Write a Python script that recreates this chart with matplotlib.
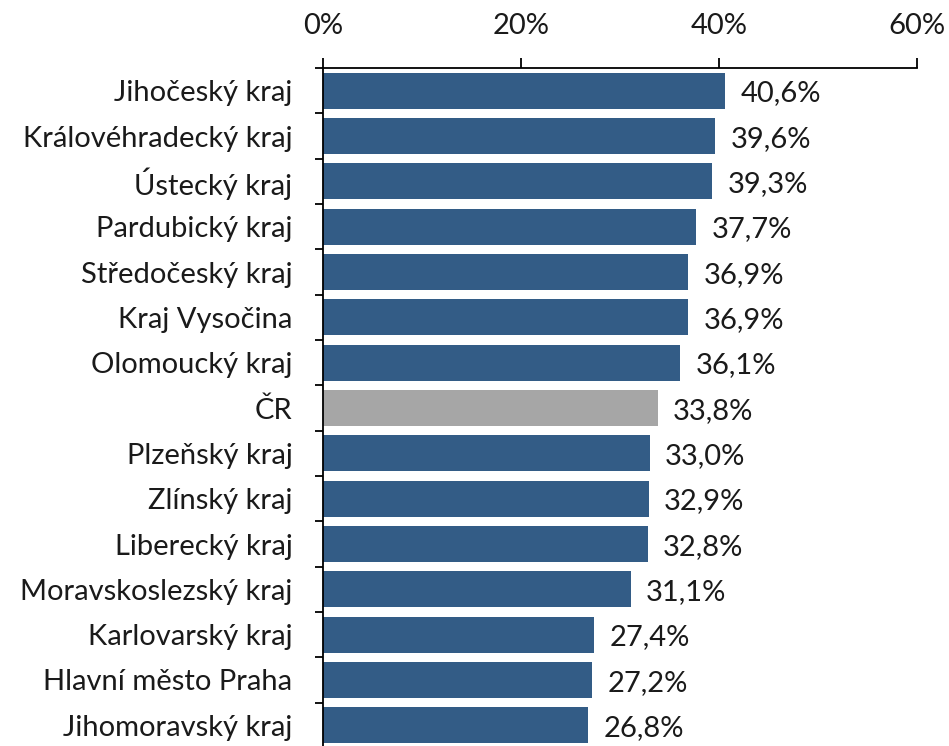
import numpy as np
import matplotlib.pyplot as plt
from matplotlib.ticker import FuncFormatter

kraje = ['Jihočeský kraj', 'Královéhradecký kraj', 'Ústecký kraj', 'Pardubický kraj',
         'Středočeský kraj', 'Kraj Vysočina', 'Olomoucký kraj', 'ČR', 'Plzeňský kraj',
         'Zlínský kraj', 'Liberecký kraj', 'Moravskoslezský kraj', 'Karlovarský kraj',
         'Hlavní město Praha', 'Jihomoravský kraj']
podil = [40.6, 39.6, 39.3, 37.7, 36.9, 36.9, 36.1, 33.8, 33.0, 32.9, 32.8, 31.1, 27.4, 27.2, 26.8]

plt.rcParams['font.family'] = ['Lato', 'DejaVu Sans']
modra = '#335C86'
seda = '#A6A6A6'

fig = plt.figure(figsize=(9.49, 7.46), dpi=100)
ax = fig.add_axes([323/949, -2/746, (917-323)/949, (748-68)/746])

y = np.arange(len(kraje))
barvy = [seda if k == 'ČR' else modra for k in kraje]
ax.barh(y, podil, height=0.8, color=barvy)

for yi, v in zip(y, podil):
    ax.annotate(f'{v:.1f}%'.replace('.', ','), (v, yi), xytext=(11, -2),
                textcoords='offset points', va='center', ha='left', fontsize=21, color='#1a1a1a')

ax.set_xlim(0, 60)
ax.set_ylim(len(kraje) - 0.5, -0.5)
ax.set_xticks([0, 20, 40, 60])
ax.xaxis.set_major_formatter(FuncFormatter(lambda x, p: f'{x:.0f}%'))
ax.xaxis.tick_top()
ax.tick_params(axis='x', direction='out', length=7, width=1.3, pad=14, labelsize=21,
               labelcolor='#1a1a1a')

ax.set_yticks(y)
ax.set_yticklabels(kraje)
ax.set_yticks(np.arange(len(kraje) + 1) - 0.5, minor=True)
ax.tick_params(axis='y', which='major', length=0, pad=22, labelsize=21, labelcolor='#1a1a1a')
ax.tick_params(axis='y', which='minor', length=6, width=1.3)

for s in ['right', 'bottom']:
    ax.spines[s].set_visible(False)
ax.spines['top'].set_linewidth(1.3)
ax.spines['left'].set_linewidth(1.3)

plt.savefig('out.png', dpi=100)
